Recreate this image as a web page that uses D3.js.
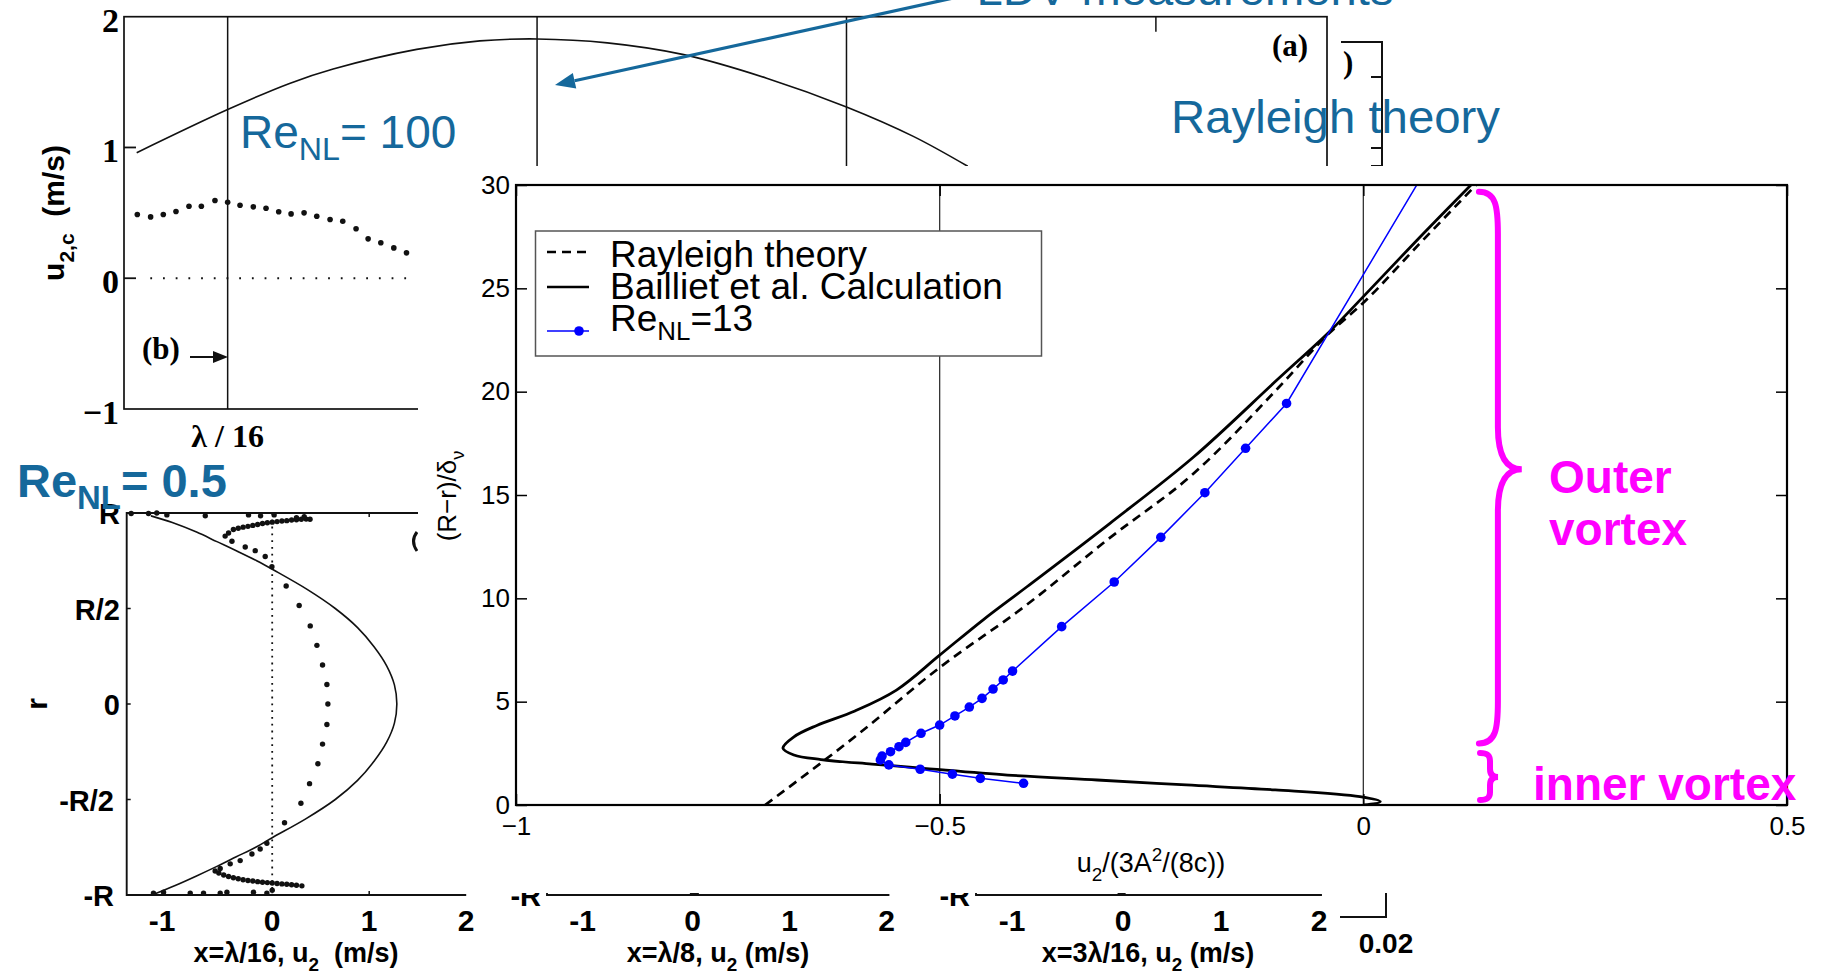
<!DOCTYPE html>
<html><head><meta charset="utf-8">
<script src="https://cdn.jsdelivr.net/npm/d3@7/dist/d3.min.js"></script>
<style>html,body{margin:0;padding:0;background:#fff;overflow:hidden} text{white-space:pre}</style>
</head><body>
<svg id="chart" width="1823" height="980" xmlns="http://www.w3.org/2000/svg"></svg>
<script>
// ================= DATA =================
// Panel (b), top: axial position (units of λ/16) and centreline streaming velocity u2,c (m/s)
const topTheoryPos = [0.706, 1.0, 1.2, 1.341, 1.611, 1.815, 2.0, 2.227, 2.474, 2.742, 3.0, 3.216, 3.392];
const topTheoryU   = [0.96, 1.29, 1.49, 1.60, 1.75, 1.815, 1.83, 1.80, 1.71, 1.53, 1.31, 1.085, 0.856];
const topLdvPos = [0.708,0.751,0.792,0.833,0.875,0.915,0.959,1.0,1.040,1.083,1.124,1.165,1.205,1.247,1.288,1.331,1.372,1.415,1.454,1.495,1.537,1.578];
const topLdvU   = [0.487,0.469,0.487,0.510,0.550,0.550,0.594,0.581,0.558,0.546,0.535,0.508,0.492,0.500,0.474,0.449,0.436,0.378,0.301,0.271,0.232,0.194];
const topYTicks = [2, 1, 0, -1];
const topYTickLabels = ["2", "1", "0", "−1"];
const topMarkerPos = [1, 2, 3];
const topExtraTicks = [4];

// Bottom-left panel (Re_NL = 0.5), x = λ/16: radius r/R and u2 (m/s)
const profR = [0.985,0.95,0.9,0.85,0.8,0.75,0.7,0.6,0.5,0.4,0.3,0.2,0.1,0,-0.1,-0.2,-0.3,-0.4,-0.5,-0.6,-0.7,-0.75,-0.8,-0.85,-0.9,-0.95,-1.0];
const profU = [-1.25,-1.03,-0.78,-0.57,-0.36,-0.16,0.02,0.36,0.65,0.88,1.05,1.18,1.26,1.285,1.26,1.18,1.05,0.88,0.65,0.35,0.0,-0.17,-0.37,-0.57,-0.78,-1.0,-1.24];
const profDotU = [-0.415,-0.278,-0.175,-0.072,-0.003,0.144,0.278,0.392,0.461,0.519,0.564,0.574,0.564,0.519,0.471,0.385,0.296,0.127,-0.055,-0.124,-0.209,-0.33,-0.433,-0.536,
  -0.485,-0.45,-0.4,-0.35,-0.3,-0.25,-0.2,-0.15,-0.1,-0.05,0,0.05,0.1,0.15,0.2,0.25,0.3,0.35,0.39,
  -1.454,-1.275,-1.19,-1.086,-0.69,-0.244,-0.12,0.02,0.25,0.33,
  -0.588,-0.55,-0.5,-0.45,-0.4,-0.35,-0.3,-0.25,-0.2,-0.15,-0.1,-0.05,0,0.05,0.1,0.15,0.2,0.25,0.306,
  -1.224,-1.12,-0.845,-0.708,-0.536,-0.467,-0.193,-0.055,0.0];
const profDotR = [0.852,0.822,0.803,0.772,0.719,0.618,0.516,0.409,0.307,0.204,0.102,0,-0.107,-0.21,-0.313,-0.417,-0.52,-0.622,-0.729,-0.759,-0.785,-0.82,-0.837,-0.861,
  0.879,0.895,0.914,0.92,0.926,0.93,0.935,0.94,0.945,0.949,0.952,0.955,0.958,0.96,0.963,0.965,0.967,0.968,0.967,
  0.997,0.997,1.0,0.99,0.985,0.99,0.985,0.99,0.975,0.98,
  -0.874,-0.885,-0.895,-0.903,-0.91,-0.915,-0.92,-0.924,-0.927,-0.93,-0.933,-0.935,-0.937,-0.94,-0.942,-0.944,-0.946,-0.949,-0.952,
  -0.99,-0.985,-0.99,-0.99,-0.99,-0.985,-0.985,-0.99,-0.975];
const profYTicks = [1, 0.5, 0, -0.5, -1];
const profYTickLabels = ["R", "R/2", "0", "-R/2", "-R"];
const panelXTicks = [-1, 0, 1, 2];
const panelXTickLabels = ["-1", "0", "1", "2"];
// hidden middle / right panels: only their bottom dots peek out
const midDotU = [0.0, 0.04];
const rightDotU = [0.0, -0.03];
const hiddenDotR = [-0.99, -0.985];

// Main panel: u2/(3A^2/(8c)) vs (R-r)/delta_nu
const rayX = [-0.706,-0.594,-0.5,-0.4,-0.3,-0.2,-0.1,-0.041,0,0.065,0.133];
const rayY = [0,3.5,6.65,9.6,12.9,16.05,20.2,22.8,24.3,27.1,30];
const baillX = [0.127,0.065,0,-0.04,-0.102,-0.2,-0.299,-0.397,-0.449,-0.5,-0.551,-0.6,-0.645,-0.672,-0.685,-0.672,-0.64,-0.58,-0.525,-0.42,-0.314,-0.209,-0.104,-0.004,0.02,0.001];
const baillY = [30,27.4,24.6,22.9,20.56,16.85,13.63,10.56,8.95,7.25,5.56,4.55,3.85,3.3,2.75,2.42,2.2,1.98,1.8,1.45,1.21,0.97,0.73,0.40,0.16,0];
const re13X = [0.095,-0.0906,-0.139,-0.187,-0.239,-0.294,-0.356,-0.414,-0.425,-0.437,-0.45,-0.465,-0.482,-0.5,-0.522,-0.540,-0.548,-0.558,-0.568,-0.57,-0.56,-0.523,-0.485,-0.452,-0.401];
const re13Y = [32.2,19.43,17.26,15.11,12.95,10.79,8.63,6.48,6.05,5.61,5.16,4.74,4.31,3.87,3.47,3.03,2.82,2.58,2.37,2.18,1.94,1.73,1.49,1.29,1.05];
const mainXTicks = [-1, -0.5, 0, 0.5];
const mainXTickLabels = ["−1", "−0.5", "0", "0.5"];
const mainYTicks = [0, 5, 10, 15, 20, 25, 30];
const mainYTickLabels = ["0", "5", "10", "15", "20", "25", "30"];
const mainGridX = [-0.5, 0];
const legendLabels = ["Rayleigh theory", "Bailliet et al. Calculation", "Re"];

// ================= DRAW =================
const svg = d3.select('#chart');
const SANS = "'Liberation Sans', Arial, Helvetica, sans-serif";
const SERIF = "'Liberation Serif', 'Times New Roman', serif";
const BLUE_TXT = '#15689b';
const MAG = '#ff00ff';
svg.append('rect').attr('width', 1823).attr('height', 980).attr('fill', '#fff');

function rich(parent, x, y, parts, o) {
  const t = parent.append('text').attr('x', x).attr('y', y)
    .attr('font-family', o.family || SANS).attr('font-size', o.size)
    .attr('font-weight', o.weight || 'normal').attr('fill', o.fill || '#000')
    .attr('text-anchor', o.anchor || 'start');
  if (o.transform) t.attr('transform', o.transform);
  let cur = 0;
  parts.forEach(p => {
    let shift = 0, fs = o.size;
    if (p.sub) { shift = p.shift != null ? p.shift : o.size * 0.27; fs = o.size * (p.scale || 0.7); }
    if (p.sup) { shift = p.shift != null ? p.shift : -o.size * 0.4; fs = o.size * (p.scale || 0.7); }
    t.append('tspan').attr('dy', shift - cur).attr('font-size', fs).text(p.t);
    cur = shift;
  });
  return t;
}

// ---------- Top panel (b) ----------
const tx = d3.scaleLinear().domain([0.665, 4.553]).range([124, 1327]);
const ty = d3.scaleLinear().domain([-1, 2]).range([409, 16.7]);
const gT = svg.append('g');
gT.append('rect').attr('x', tx(0.665)).attr('y', ty(2)).attr('width', tx(4.553) - tx(0.665)).attr('height', ty(-1) - ty(2))
  .attr('fill', 'none').attr('stroke', '#111').attr('stroke-width', 1.7);
gT.selectAll('.vm').data(topMarkerPos).enter().append('line')
  .attr('x1', d => tx(d)).attr('x2', d => tx(d)).attr('y1', ty(2)).attr('y2', ty(-1))
  .attr('stroke', '#111').attr('stroke-width', 1.5);
gT.selectAll('.vt').data(topExtraTicks).enter().append('line')
  .attr('x1', d => tx(d)).attr('x2', d => tx(d)).attr('y1', ty(2)).attr('y2', ty(2) + 15)
  .attr('stroke', '#111').attr('stroke-width', 1.5);
gT.selectAll('.yt').data([1, 0]).enter().append('line')
  .attr('x1', tx(0.665)).attr('x2', tx(0.665) + 12).attr('y1', d => ty(d)).attr('y2', d => ty(d))
  .attr('stroke', '#111').attr('stroke-width', 1.8);
gT.append('line').attr('x1', tx(0.75)).attr('x2', tx(1.585)).attr('y1', ty(0)).attr('y2', ty(0))
  .attr('stroke', '#111').attr('stroke-width', 1.8).attr('stroke-dasharray', '1.8,10.9');
gT.append('path').datum(topTheoryPos.map((p, i) => [p, topTheoryU[i]]))
  .attr('d', d3.line().x(d => tx(d[0])).y(d => ty(d[1])).curve(d3.curveCatmullRom))
  .attr('fill', 'none').attr('stroke', '#111').attr('stroke-width', 1.6);
gT.selectAll('.ldv').data(topLdvPos.map((p, i) => [p, topLdvU[i]])).enter().append('circle')
  .attr('cx', d => tx(d[0])).attr('cy', d => ty(d[1])).attr('r', 2.8).attr('fill', '#111');
gT.selectAll('.ytl').data(topYTicks).enter().append('text')
  .attr('x', 119).attr('y', d => ty(d) + 15).attr('text-anchor', 'end')
  .attr('font-family', SERIF).attr('font-weight', 'bold').attr('font-size', 34)
  .text((d, i) => topYTickLabels[i]);
gT.append('text').attr('x', tx(1)).attr('y', 447).attr('text-anchor', 'middle')
  .attr('font-family', SERIF).attr('font-weight', 'bold').attr('font-size', 32).text('λ / 16');
rich(gT, 0, 0, [{t: 'u'}, {t: '2,c', sub: true, shift: 10}, {t: '  (m/s)'}],
  {size: 30, weight: 'bold', anchor: 'middle', transform: 'translate(64,213) rotate(-90)'});
gT.append('text').attr('x', 142).attr('y', 359).attr('font-family', SERIF).attr('font-weight', 'bold')
  .attr('font-size', 31).text('(b)');
gT.append('path').attr('d', `M190,357H220`).attr('fill', 'none').attr('stroke', '#111').attr('stroke-width', 2);
gT.append('path').attr('d', `M213,351L228,357L213,363Z`).attr('fill', '#111');
gT.append('text').attr('x', 1290).attr('y', 56).attr('text-anchor', 'middle').attr('font-family', SERIF)
  .attr('font-weight', 'bold').attr('font-size', 31).text('(a)');
// fragment of another panel at right
gT.append('path').attr('d', 'M1341,42H1382V166H1371M1382,77H1371M1382,148H1371').attr('fill', 'none')
  .attr('stroke', '#111').attr('stroke-width', 2);
gT.append('text').attr('x', 1343).attr('y', 73).attr('font-family', SERIF).attr('font-weight', 'bold')
  .attr('font-size', 31).text(')');

// ---------- Bottom-left panel ----------
const lx = d3.scaleLinear().domain([-1.5, 1.5]).range([126.7, 417.7]);
const ly = d3.scaleLinear().domain([-1, 1]).range([895, 513]);
const gL = svg.append('g');
gL.append('path').attr('d', `M${lx(2)},${ly(1)}H${lx(-1.5)}V${ly(-1)}H${lx(2)}`).attr('fill', 'none')
  .attr('stroke', '#111').attr('stroke-width', 1.9);
gL.selectAll('.lt').data([0.5, 0, -0.5]).enter().append('line')
  .attr('x1', lx(-1.5)).attr('x2', lx(-1.5) + 4).attr('y1', d => ly(d)).attr('y2', d => ly(d))
  .attr('stroke', '#111').attr('stroke-width', 1.5);
gL.selectAll('.bt').data([1]).enter().append('path')
  .attr('d', d => `M${lx(d)},${ly(1)}v4M${lx(d)},${ly(-1)}v-4`).attr('stroke', '#111').attr('stroke-width', 1.5);
gL.append('line').attr('x1', lx(0)).attr('x2', lx(0)).attr('y1', ly(1)).attr('y2', ly(-1))
  .attr('stroke', '#111').attr('stroke-width', 1.8).attr('stroke-dasharray', '1.8,5');
gL.append('path').datum(profR.map((r, i) => [profU[i], r]))
  .attr('d', d3.line().x(d => lx(d[0])).y(d => ly(d[1])).curve(d3.curveCatmullRom))
  .attr('fill', 'none').attr('stroke', '#111').attr('stroke-width', 1.6);
gL.selectAll('.pd').data(profDotU.map((u, i) => [u, profDotR[i]])).enter().append('circle')
  .attr('cx', d => lx(d[0])).attr('cy', d => ly(d[1])).attr('r', 2.7).attr('fill', '#111');
gL.selectAll('.ylab').data(profYTicks).enter().append('text')
  .attr('x', d => d < 0 ? 114 : 120).attr('y', d => ly(d) + 11).attr('text-anchor', 'end')
  .attr('font-family', SANS).attr('font-weight', 'bold').attr('font-size', 29)
  .text((d, i) => profYTickLabels[i]);
gL.append('text').attr('transform', `translate(47,${ly(0)}) rotate(-90)`).attr('text-anchor', 'middle')
  .attr('font-family', SANS).attr('font-weight', 'bold').attr('font-size', 30).text('r');
gL.append('path').attr('d', 'M417,532 Q410,541 417,551').attr('fill', 'none').attr('stroke', '#111').attr('stroke-width', 3);

// bottom-row tick labels & titles (three panels)
const panels = [
  {sx: lx, title: [{t: 'x=λ/16, u'}, {t: '2', sub: true, shift: 9}, {t: '  (m/s)'}], cx: 296, axis: false},
  {sx: d3.scaleLinear().domain([-1.5, 2]).range([547, 886.5]), title: [{t: 'x=λ/8, u'}, {t: '2', sub: true, shift: 9}, {t: ' (m/s)'}], cx: 718, axis: true, dots: midDotU},
  {sx: d3.scaleLinear().domain([-1.5, 2]).range([976, 1319]), title: [{t: 'x=3λ/16, u'}, {t: '2', sub: true, shift: 9}, {t: ' (m/s)'}], cx: 1148, axis: true, dots: rightDotU}
];
panels.forEach(p => {
  const g = svg.append('g');
  if (p.axis) {
    g.append('path').attr('d', `M${p.sx(-1.5)},${ly(-1) - 30}V${ly(-1)}H${p.sx(2.03)}`).attr('fill', 'none')
      .attr('stroke', '#111').attr('stroke-width', 1.9);
    g.append('text').attr('x', p.sx(-1.5) - 6).attr('y', ly(-1) + 11).attr('text-anchor', 'end')
      .attr('font-family', SANS).attr('font-weight', 'bold').attr('font-size', 29).text('-R');
    g.selectAll('circle').data(p.dots.map((u, i) => [u, hiddenDotR[i]])).enter().append('circle')
      .attr('cx', d => p.sx(d[0])).attr('cy', d => ly(d[1])).attr('r', 2.7).attr('fill', '#111');
  }
  g.selectAll('.xl').data(panelXTicks).enter().append('text')
    .attr('x', d => p.sx(d) + (d < 0 ? -13 : 0)).attr('y', 931).attr('text-anchor', 'middle')
    .attr('font-family', SANS).attr('font-weight', 'bold').attr('font-size', 30)
    .text((d, i) => panelXTickLabels[i]);
  rich(g, p.cx, 962, p.title, {size: 27, weight: 'bold', anchor: 'middle'});
});
// scale bar
svg.append('path').attr('d', 'M1340,917H1386V880').attr('fill', 'none').attr('stroke', '#111').attr('stroke-width', 2);
svg.append('text').attr('x', 1386).attr('y', 953).attr('text-anchor', 'middle').attr('font-family', SANS)
  .attr('font-weight', 'bold').attr('font-size', 28).text('0.02');

// annotations in blue
rich(svg, 240, 148, [{t: 'Re'}, {t: 'NL', sub: true, shift: 12}, {t: '= 100'}], {size: 46, fill: BLUE_TXT});
rich(svg, 17, 497, [{t: 'Re'}, {t: 'NL', sub: true, shift: 12}, {t: '= 0.5'}], {size: 47, weight: 'bold', fill: BLUE_TXT});
svg.append('text').attr('x', 1171).attr('y', 133).attr('font-family', SANS).attr('font-size', 46)
  .attr('fill', BLUE_TXT).attr('textLength', 329).attr('lengthAdjust', 'spacingAndGlyphs').text('Rayleigh theory');
svg.append('text').attr('x', 976.5).attr('y', 4.5).attr('font-family', SANS).attr('font-size', 46)
  .attr('fill', BLUE_TXT).attr('textLength', 417).attr('lengthAdjust', 'spacingAndGlyphs').text('LDV measurements');
(function arrow() {
  const tip = [555, 85], far = [990, -10];
  const dx = far[0] - tip[0], dy = far[1] - tip[1], L = Math.hypot(dx, dy), ux = dx / L, uy = dy / L;
  const b = [tip[0] + ux * 20, tip[1] + uy * 20];
  svg.append('line').attr('x1', b[0]).attr('y1', b[1]).attr('x2', far[0]).attr('y2', far[1])
    .attr('stroke', BLUE_TXT).attr('stroke-width', 3.2);
  svg.append('path').attr('d', `M${tip}L${b[0] - uy * 8},${b[1] + ux * 8}L${b[0] + uy * 8},${b[1] - ux * 8}Z`)
    .attr('fill', BLUE_TXT);
})();

// ---------- Main panel overlay ----------
svg.append('rect').attr('x', 418).attr('y', 166).attr('width', 1405).attr('height', 727).attr('fill', '#fff');
const mx = d3.scaleLinear().domain([-1, 0.5]).range([516, 1787]);
const my = d3.scaleLinear().domain([0, 30]).range([805, 185]);
const gM = svg.append('g');
gM.append('clipPath').attr('id', 'mclip').append('rect')
  .attr('x', mx(-1)).attr('y', my(30)).attr('width', mx(0.5) - mx(-1)).attr('height', my(0) - my(30));
gM.selectAll('.gx').data(mainGridX).enter().append('line')
  .attr('x1', d => mx(d)).attr('x2', d => mx(d)).attr('y1', my(30)).attr('y2', my(0))
  .attr('stroke', '#333').attr('stroke-width', 1.3);
const gD = gM.append('g').attr('clip-path', 'url(#mclip)');
gD.append('path').datum(rayX.map((x, i) => [x, rayY[i]])).attr('d', d3.line().x(d => mx(d[0])).y(d => my(d[1])).curve(d3.curveMonotoneX))
  .attr('fill', 'none').attr('stroke', '#000').attr('stroke-width', 2.7).attr('stroke-dasharray', '9,6');
gD.append('path').datum(baillX.map((x, i) => [x, baillY[i]])).attr('d', d3.line().x(d => mx(d[0])).y(d => my(d[1])).curve(d3.curveCatmullRom))
  .attr('fill', 'none').attr('stroke', '#000').attr('stroke-width', 2.8);
gD.append('path').datum(re13X.map((x, i) => [x, re13Y[i]])).attr('d', d3.line().x(d => mx(d[0])).y(d => my(d[1])))
  .attr('fill', 'none').attr('stroke', '#0000ff').attr('stroke-width', 1.5);
gD.selectAll('.b').data(re13X.map((x, i) => [x, re13Y[i]])).enter().append('circle')
  .attr('cx', d => mx(d[0])).attr('cy', d => my(d[1])).attr('r', 4.8).attr('fill', '#0000ff');

// axes
const axStyle = g => { g.select('.domain').remove(); g.selectAll('line').attr('stroke', '#000').attr('stroke-width', 1.5);
  g.selectAll('text').attr('font-family', SANS).attr('font-size', 26).attr('fill', '#000'); };
gM.append('g').attr('transform', `translate(${mx(-1)},0)`)
  .call(d3.axisLeft(my).tickValues(mainYTicks).tickSize(-11).tickPadding(6).tickFormat((d, i) => mainYTickLabels[i])).call(axStyle);
gM.append('g').attr('transform', `translate(${mx(0.5)},0)`)
  .call(d3.axisRight(my).tickValues(mainYTicks).tickSize(-11).tickFormat('')).call(axStyle);
gM.append('g').attr('transform', `translate(0,${my(0)})`)
  .call(d3.axisBottom(mx).tickValues(mainXTicks).tickSize(-11).tickPadding(12).tickFormat((d, i) => mainXTickLabels[i])).call(axStyle);
gM.append('g').attr('transform', `translate(0,${my(30)})`)
  .call(d3.axisTop(mx).tickValues(mainXTicks).tickSize(-11).tickFormat('')).call(axStyle);
gM.append('rect').attr('x', mx(-1)).attr('y', my(30)).attr('width', mx(0.5) - mx(-1)).attr('height', my(0) - my(30))
  .attr('fill', 'none').attr('stroke', '#000').attr('stroke-width', 2.2);
rich(gM, 1151, 872, [{t: 'u'}, {t: '2', sub: true, shift: 9}, {t: '/(3A'}, {t: '2', sup: true, shift: -11}, {t: '/(8c))'}],
  {size: 27, anchor: 'middle'});
rich(gM, 0, 0, [{t: '(R−r)/δ'}, {t: 'ν', sub: true, shift: 8}], {size: 26, anchor: 'middle', transform: 'translate(456,496) rotate(-90)'});

// legend
const gLeg = gM.append('g');
gLeg.append('rect').attr('x', 535.5).attr('y', 231).attr('width', 506).attr('height', 125)
  .attr('fill', '#fff').attr('stroke', '#555').attr('stroke-width', 1.5);
gLeg.append('line').attr('x1', 547).attr('x2', 589).attr('y1', 252).attr('y2', 252)
  .attr('stroke', '#000').attr('stroke-width', 2.4).attr('stroke-dasharray', '9,6');
gLeg.append('line').attr('x1', 547).attr('x2', 589).attr('y1', 287).attr('y2', 287)
  .attr('stroke', '#000').attr('stroke-width', 2.6);
gLeg.append('line').attr('x1', 547).attr('x2', 589).attr('y1', 331).attr('y2', 331)
  .attr('stroke', '#0000ff').attr('stroke-width', 1.5);
gLeg.append('circle').attr('cx', 579).attr('cy', 331).attr('r', 4.8).attr('fill', '#0000ff');
gLeg.append('text').attr('x', 610).attr('y', 267).attr('font-family', SANS).attr('font-size', 37).text(legendLabels[0]);
gLeg.append('text').attr('x', 610).attr('y', 299).attr('font-family', SANS).attr('font-size', 37).text(legendLabels[1]);
rich(gLeg, 610, 331, [{t: legendLabels[2]}, {t: 'NL', sub: true, shift: 9}, {t: '=13'}], {size: 37});

// magenta braces
function brace(x0, xv, xt, yT, yC, yB, r) {
  const k = (xt - xv) * 0.35;
  return `M${x0},${yT}C${xv - 2},${yT} ${xv},${yT + r * 0.35} ${xv},${yT + r}` +
    `L${xv},${yC - r}C${xv},${yC - r * 0.3} ${xv + k},${yC} ${xt},${yC}` +
    `C${xv + k},${yC} ${xv},${yC + r * 0.3} ${xv},${yC + r}` +
    `L${xv},${yB - r}C${xv},${yB - r * 0.35} ${xv - 2},${yB} ${x0},${yB}`;
}
gM.append('path').attr('d', brace(mx(0.1364), mx(0.1588), mx(0.187), my(29.67), my(16.24), my(2.98), 42))
  .attr('fill', 'none').attr('stroke', MAG).attr('stroke-width', 6).attr('stroke-linecap', 'round');
gM.append('path').attr('d', brace(mx(0.1377), mx(0.1495), mx(0.159), my(2.52), my(1.35), my(0.24), 8))
  .attr('fill', 'none').attr('stroke', MAG).attr('stroke-width', 6).attr('stroke-linecap', 'round');
const magText = (x, y, t) => gM.append('text').attr('x', x).attr('y', y).attr('font-family', SANS)
  .attr('font-weight', 'bold').attr('font-size', 46).attr('fill', MAG).text(t);
magText(1549, 493, 'Outer');
magText(1549, 545, 'vortex');
magText(1533, 800, 'inner vortex');
</script>
</body></html>
